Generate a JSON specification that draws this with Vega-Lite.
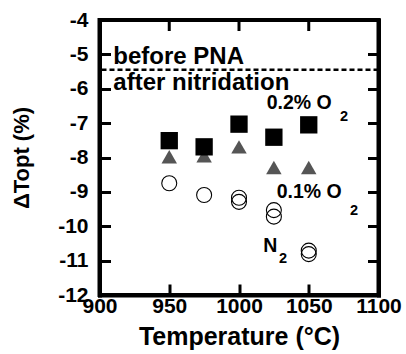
{
  "$schema": "https://vega.github.io/schema/vega-lite/v6.json",
  "autosize": {"type": "none"},
  "padding": {"left": 99.5, "top": 20, "right": 27.5, "bottom": 59},
  "width": 279,
  "height": 275,
  "background": "white",
  "config": {
    "view": {"stroke": null},
    "font": "Liberation Sans",
    "axis": {
      "grid": false,
      "domain": true,
      "domainColor": "black",
      "domainWidth": 4,
      "domainCap": "square",
      "tickColor": "black",
      "tickWidth": 3,
      "tickSize": -11,
      "labelFlush": false,
      "labelOverlap": false,
      "labelFont": "Liberation Sans",
      "labelFontWeight": "bold",
      "labelFontSize": 21,
      "labelColor": "black",
      "titleFont": "Liberation Sans",
      "titleFontWeight": "bold",
      "titleColor": "black"
    }
  },
  "datasets": {
    "pts": [
      {"temp": 950, "val": -7.51, "series": "0.2% O2"},
      {"temp": 975, "val": -7.69, "series": "0.2% O2"},
      {"temp": 1000, "val": -7.03, "series": "0.2% O2"},
      {"temp": 1025, "val": -7.41, "series": "0.2% O2"},
      {"temp": 1050, "val": -7.05, "series": "0.2% O2"},
      {"temp": 950, "val": -7.98, "series": "0.1% O2"},
      {"temp": 975, "val": -7.95, "series": "0.1% O2"},
      {"temp": 1000, "val": -7.69, "series": "0.1% O2"},
      {"temp": 1025, "val": -8.29, "series": "0.1% O2"},
      {"temp": 1050, "val": -8.29, "series": "0.1% O2"},
      {"temp": 950, "val": -8.75, "series": "N2"},
      {"temp": 975, "val": -9.09, "series": "N2"},
      {"temp": 1000, "val": -9.17, "series": "N2"},
      {"temp": 1000, "val": -9.29, "series": "N2"},
      {"temp": 1025, "val": -9.53, "series": "N2"},
      {"temp": 1025, "val": -9.72, "series": "N2"},
      {"temp": 1050, "val": -10.71, "series": "N2"},
      {"temp": 1050, "val": -10.81, "series": "N2"}
    ],
    "big": [
      {"temp": 909.9, "val": -5.29, "label": "before PNA"},
      {"temp": 909.9, "val": -6.04, "label": "after nitridation"}
    ],
    "mid": [
      {"temp": 1019.9, "val": -6.6, "label": "0.2% O"},
      {"temp": 1027.0, "val": -9.19, "label": "0.1% O"},
      {"temp": 1017.4, "val": -10.74, "label": "N"}
    ],
    "sub": [
      {"temp": 1072.4, "val": -6.94, "label": "2"},
      {"temp": 1079.6, "val": -9.67, "label": "2"},
      {"temp": 1028.7, "val": -11.08, "label": "2"}
    ],
    "ref": [{"val": -5.45}],
    "box": [{"x1": 900, "x2": 1100, "y1": -12, "y2": -4}],
    "topticks": [{"temp": 950}, {"temp": 1000}, {"temp": 1050}]
  },
  "resolve": {"axis": {"x": "independent", "y": "independent"}},
  "layer": [
    {
      "data": {"name": "ref"},
      "mark": {"type": "rule", "color": "black", "strokeWidth": 2.5, "strokeDash": [5, 3]},
      "encoding": {
        "y": {"field": "val", "type": "quantitative", "scale": {"domain": [-12, -4], "nice": false, "zero": false},
          "axis": {"orient": "left", "values": [-12, -11, -10, -9, -8, -7, -6, -5, -4], "labelExpr": "'-' + abs(datum.value)", "labelPadding": 22.5, "title": "ΔTopt (%)", "titleFontSize": 22, "titlePadding": 24}}
      }
    },
    {
      "data": {"name": "box"},
      "mark": {"type": "rect", "fill": null, "fillOpacity": 0, "stroke": "black", "strokeWidth": 4, "strokeOpacity": 1},
      "encoding": {
        "x": {"field": "x1", "type": "quantitative", "axis": null},
        "x2": {"field": "x2"},
        "y": {"field": "y1", "type": "quantitative", "axis": null},
        "y2": {"field": "y2"}
      }
    },
    {
      "data": {"name": "topticks"},
      "mark": {"type": "rule", "color": "black", "strokeWidth": 3},
      "encoding": {
        "x": {"field": "temp", "type": "quantitative", "axis": null},
        "y": {"datum": -4, "type": "quantitative", "axis": null},
        "y2": {"datum": -4.32}
      }
    },
    {
      "data": {"name": "pts"},
      "transform": [{"filter": "datum.series === 'N2'"}],
      "mark": {"type": "point", "shape": "circle", "filled": false, "stroke": "black", "strokeWidth": 1.1, "size": 225, "opacity": 1},
      "encoding": {
        "x": {"field": "temp", "type": "quantitative", "scale": {"domain": [900, 1100], "nice": false, "zero": false},
          "axis": {"orient": "bottom", "values": [900, 950, 1000, 1050, 1100], "format": "d", "labelPadding": 11, "title": "Temperature (°C)", "titleFontSize": 25, "titlePadding": 8}},
        "y": {"field": "val", "type": "quantitative",
          "axis": {"orient": "right", "values": [-11, -10, -9, -8, -7, -6, -5], "labels": false, "title": null}}
      }
    },
    {
      "data": {"name": "pts"},
      "transform": [{"filter": "datum.series === '0.1% O2'"}],
      "mark": {"type": "point", "shape": "triangle-up", "filled": true, "color": "#555555", "size": 240, "opacity": 1},
      "encoding": {
        "x": {"field": "temp", "type": "quantitative", "axis": null},
        "y": {"field": "val", "type": "quantitative", "axis": null}
      }
    },
    {
      "data": {"name": "pts"},
      "transform": [{"filter": "datum.series === '0.2% O2'"}],
      "mark": {"type": "point", "shape": "square", "filled": true, "color": "black", "size": 300, "opacity": 1},
      "encoding": {
        "x": {"field": "temp", "type": "quantitative", "axis": null},
        "y": {"field": "val", "type": "quantitative", "axis": null}
      }
    },
    {
      "data": {"name": "big"},
      "mark": {"type": "text", "align": "left", "baseline": "alphabetic", "fontSize": 24, "fontWeight": "bold", "font": "Liberation Sans", "color": "black"},
      "encoding": {
        "x": {"field": "temp", "type": "quantitative", "axis": null},
        "y": {"field": "val", "type": "quantitative", "axis": null},
        "text": {"field": "label"}
      }
    },
    {
      "data": {"name": "mid"},
      "mark": {"type": "text", "align": "left", "baseline": "alphabetic", "fontSize": 19.5, "fontWeight": "bold", "font": "Liberation Sans", "color": "black"},
      "encoding": {
        "x": {"field": "temp", "type": "quantitative", "axis": null},
        "y": {"field": "val", "type": "quantitative", "axis": null},
        "text": {"field": "label"}
      }
    },
    {
      "data": {"name": "sub"},
      "mark": {"type": "text", "align": "left", "baseline": "alphabetic", "fontSize": 14.5, "fontWeight": "bold", "font": "Liberation Sans", "color": "black"},
      "encoding": {
        "x": {"field": "temp", "type": "quantitative", "axis": null},
        "y": {"field": "val", "type": "quantitative", "axis": null},
        "text": {"field": "label"}
      }
    }
  ]
}
